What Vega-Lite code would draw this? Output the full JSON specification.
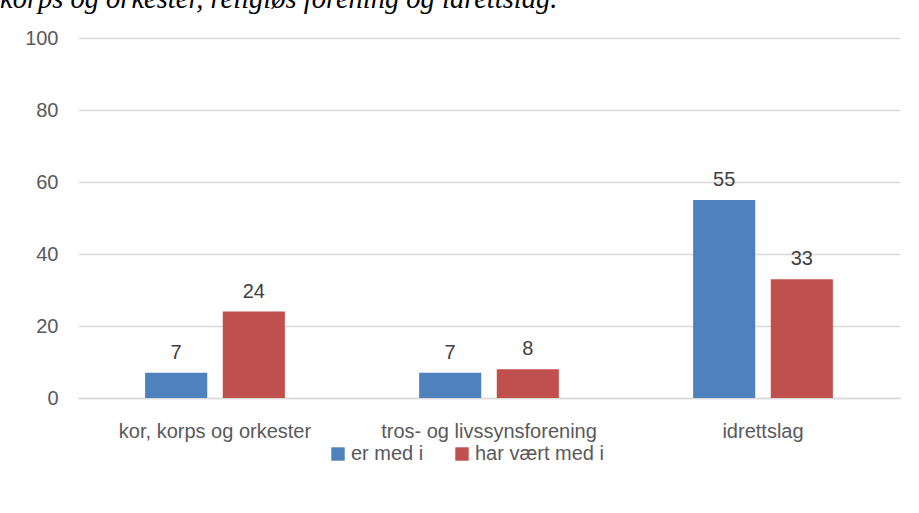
{
  "$schema": "https://vega.github.io/schema/vega-lite/v6.json",
  "autosize": "none",
  "width": 822,
  "height": 360,
  "padding": {"left": 78, "top": 38, "right": 19, "bottom": 115},
  "background": "white",
  "title": {
    "text": "korps og orkester, religiøs forening og idrettslag.",
    "anchor": "start",
    "frame": "group",
    "font": "Liberation Serif",
    "fontStyle": "italic",
    "fontWeight": "normal",
    "fontSize": 28.5,
    "color": "black",
    "baseline": "alphabetic",
    "offset": -8,
    "dx": -78
  },
  "data": {
    "values": [
      {"kategori": "kor, korps og orkester", "serie": "er med i", "verdi": 7},
      {"kategori": "kor, korps og orkester", "serie": "har vært med i", "verdi": 24},
      {"kategori": "tros- og livssynsforening", "serie": "er med i", "verdi": 7},
      {"kategori": "tros- og livssynsforening", "serie": "har vært med i", "verdi": 8},
      {"kategori": "idrettslag", "serie": "er med i", "verdi": 55},
      {"kategori": "idrettslag", "serie": "har vært med i", "verdi": 33}
    ]
  },
  "encoding": {
    "x": {
      "field": "kategori",
      "type": "nominal",
      "sort": null,
      "scale": {"paddingInner": 0.49, "paddingOuter": 0.245},
      "axis": {
        "title": null,
        "labelAngle": 0,
        "labelFont": "Liberation Sans",
        "labelFontSize": 20,
        "labelColor": "#595959",
        "labelPadding": 23,
        "labelLimit": 400,
        "ticks": false,
        "domainColor": "#d9d9d9",
        "domainWidth": 1.5,
        "grid": false
      }
    },
    "xOffset": {
      "field": "serie",
      "type": "nominal",
      "scale": {"paddingInner": 0.2, "paddingOuter": 0}
    },
    "y": {
      "field": "verdi",
      "type": "quantitative",
      "scale": {"domain": [0, 100]},
      "axis": {
        "title": null,
        "values": [0, 20, 40, 60, 80, 100],
        "labelFont": "Liberation Sans",
        "labelFontSize": 20,
        "labelColor": "#595959",
        "labelPadding": 20,
        "ticks": false,
        "domain": false,
        "gridColor": "#d9d9d9",
        "gridWidth": 1.5
      }
    }
  },
  "layer": [
    {
      "mark": {"type": "bar"},
      "encoding": {
        "color": {
          "field": "serie",
          "type": "nominal",
          "scale": {"domain": ["er med i", "har vært med i"], "range": ["#4f81bd", "#c0504d"]},
          "legend": {
            "title": null,
            "orient": "none",
            "legendX": 250,
            "legendY": 406,
            "direction": "horizontal",
            "symbolType": "square",
            "symbolSize": 180,
            "symbolStrokeWidth": 0,
            "labelFont": "Liberation Sans",
            "labelFontSize": 20,
            "labelColor": "#595959",
            "labelOffset": 3,
            "columnPadding": 28
          }
        }
      }
    },
    {
      "mark": {"type": "text", "baseline": "bottom", "dy": -10, "font": "Liberation Sans", "fontSize": 20, "color": "#404040"},
      "encoding": {
        "text": {"field": "verdi", "type": "quantitative"}
      }
    }
  ],
  "config": {"view": {"stroke": null}}
}
